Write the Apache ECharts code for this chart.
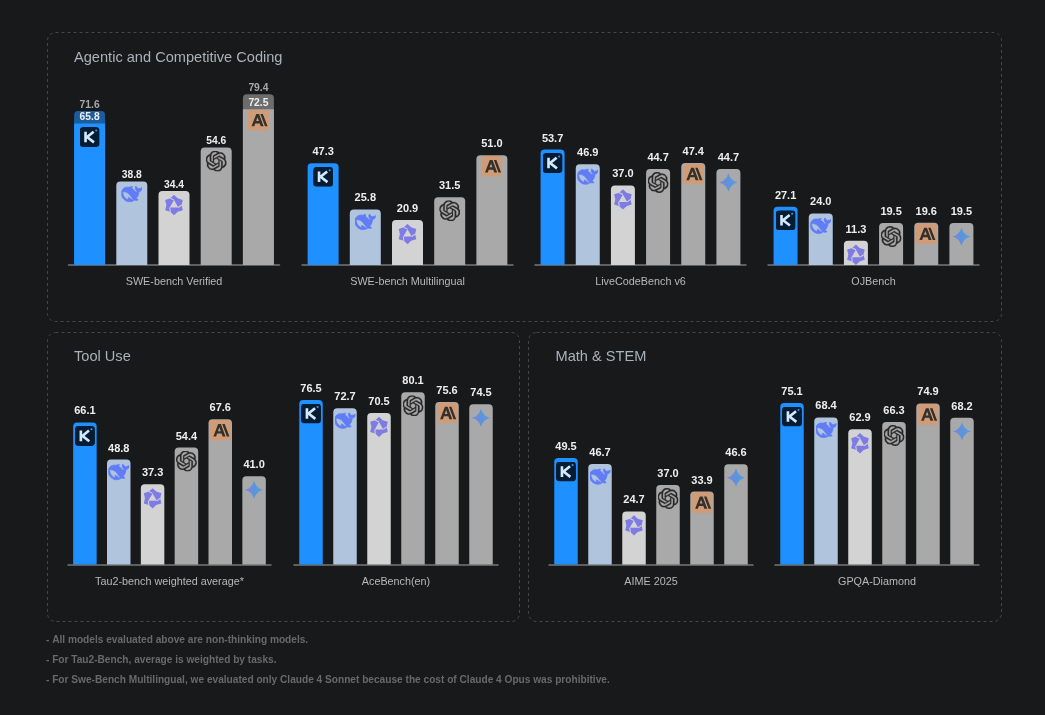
<!DOCTYPE html>
<html>
<head>
<meta charset="utf-8">
<style>html,body{margin:0;padding:0;background:#17191a}#c{width:1045px;height:715px}</style>
<script src="https://cdn.jsdelivr.net/npm/echarts@6/dist/echarts.min.js"></script>
</head>
<body>
<div id="c"></div>
<script>
// ---------- data ----------
const modelsFive = ['Kimi', 'DeepSeek', 'Qwen', 'OpenAI', 'Claude'];
const modelsSix = ['Kimi', 'DeepSeek', 'Qwen', 'OpenAI', 'Claude', 'Gemini'];

const sweVerified = [65.8, 38.8, 34.4, 54.6, 72.5];
const sweVerifiedUpper = [71.6, null, null, null, 79.4];
const sweMultilingual = [47.3, 25.8, 20.9, 31.5, 51.0];
const liveCodeBench = [53.7, 46.9, 37.0, 44.7, 47.4, 44.7];
const ojBench = [27.1, 24.0, 11.3, 19.5, 19.6, 19.5];
const tau2Bench = [66.1, 48.8, 37.3, 54.4, 67.6, 41.0];
const aceBench = [76.5, 72.7, 70.5, 80.1, 75.6, 74.5];
const aime2025 = [49.5, 46.7, 24.7, 37.0, 33.9, 46.6];
const gpqaDiamond = [75.1, 68.4, 62.9, 66.3, 74.9, 68.2];

const panelTitles = ['Agentic and Competitive Coding', 'Tool Use', 'Math & STEM'];
const footnotes = [
  '- All models evaluated above are non-thinking models.',
  '- For Tau2-Bench, average is weighted by tasks.',
  '- For Swe-Bench Multilingual, we evaluated only Claude 4 Sonnet because the cost of Claude 4 Opus was prohibitive.'
];

// ---------- icons ----------
const svg = (vb, body) => 'image://data:image/svg+xml;charset=utf-8,' + encodeURIComponent(
  '<svg xmlns="http://www.w3.org/2000/svg" width="96" height="96" viewBox="0 0 ' + vb + ' ' + vb + '">' + body + '</svg>');

const icons = {
  Kimi: svg(32, '<rect x="0" y="0" width="32" height="32" rx="6" fill="#000"/><path d="M9.5 7.5V24.5M22.5 7.5L12 16L23 24.5" stroke="#fff" stroke-width="4.2" fill="none"/><circle cx="26.5" cy="5.5" r="1.6" fill="#3ba0ff"/>'),
  DeepSeek: svg(24, '<path fill="#4d6bfe" stroke="#4d6bfe" stroke-width="0.9" d="M23.748 4.482c-.254-.124-.364.113-.512.234-.051.039-.094.09-.137.136-.372.397-.806.657-1.373.626-.829-.046-1.537.214-2.163.848-.133-.782-.575-1.248-1.247-1.548-.352-.156-.708-.311-.955-.65-.172-.241-.219-.51-.305-.774-.055-.16-.11-.323-.293-.35-.2-.031-.278.136-.356.276-.313.572-.434 1.202-.422 1.84.027 1.436.633 2.58 1.838 3.393.137.093.172.187.129.323-.082.28-.18.552-.266.833-.055.179-.137.217-.329.14a5.526 5.526 0 01-1.736-1.18c-.857-.828-1.631-1.742-2.597-2.458a11.365 11.365 0 00-.689-.471c-.985-.957.13-1.743.388-1.836.27-.098.093-.432-.779-.428-.872.004-1.67.295-2.687.684a3.055 3.055 0 01-.465.137 9.597 9.597 0 00-2.883-.102c-1.885.21-3.39 1.102-4.497 2.623C.082 8.606-.231 10.684.152 12.85c.403 2.284 1.569 4.175 3.36 5.653 1.858 1.533 3.997 2.284 6.438 2.14 1.482-.085 3.133-.284 4.994-1.86.47.234.962.327 1.78.397.63.059 1.236-.03 1.705-.128.735-.156.684-.837.419-.961-2.155-1.004-1.682-.595-2.113-.926 1.096-1.296 2.746-2.642 3.392-7.003.05-.347.007-.565 0-.845-.004-.17.035-.237.23-.256a4.173 4.173 0 001.545-.475c1.396-.763 1.96-2.015 2.093-3.517.02-.23-.004-.467-.247-.588zM11.581 18c-2.089-1.642-3.102-2.183-3.52-2.16-.392.024-.321.471-.235.763.09.288.207.486.371.739.114.167.192.416-.113.603-.673.416-1.842-.14-1.897-.167-1.361-.802-2.5-1.86-3.301-3.307-.774-1.393-1.224-2.887-1.298-4.482-.02-.386.093-.522.477-.592a4.696 4.696 0 011.529-.039c2.132.312 3.946 1.265 5.468 2.774.868.86 1.525 1.887 2.202 2.891.72 1.066 1.494 2.082 2.48 2.914.348.292.625.514.891.677-.802.09-2.14.11-3.054-.614z"/>'),
  Qwen: svg(32, '<path fill="#6a66ea" fill-rule="evenodd" d="M16 0.5L21.6 5.8L29.4 8.25L27.6 16L29.4 23.75L21.6 26.2L16 31.5L10.4 26.2L2.6 23.75L4.4 16L2.6 8.25L10.4 5.8ZM16 8.5L9.5 19.75H22.5Z"/><path d="M16 8.5L10.4 5.8M22.5 19.75L27.6 16M9.5 19.75L10.4 26.2" stroke="#d3d3d3" stroke-width="1.6"/>'),
  OpenAI: svg(24, '<path fill="#0a0a0a" stroke="#0a0a0a" stroke-width="0.35" d="M22.2819 9.8211a5.9847 5.9847 0 0 0-.5157-4.9108 6.0462 6.0462 0 0 0-6.5098-2.9A6.0651 6.0651 0 0 0 4.9807 4.1818a5.9847 5.9847 0 0 0-3.9977 2.9 6.0462 6.0462 0 0 0 .7427 7.0966 5.98 5.98 0 0 0 .511 4.9107 6.051 6.051 0 0 0 6.5146 2.9001A5.9847 5.9847 0 0 0 13.2599 24a6.0557 6.0557 0 0 0 5.7718-4.2058 5.9894 5.9894 0 0 0 3.9977-2.9001 6.0557 6.0557 0 0 0-.7475-7.0729zm-9.022 12.6081a4.4755 4.4755 0 0 1-2.8764-1.0408l.1419-.0804 4.7783-2.7582a.7948.7948 0 0 0 .3927-.6813v-6.7369l2.02 1.1686a.071.071 0 0 1 .038.052v5.5826a4.504 4.504 0 0 1-4.4945 4.4944zm-9.6607-4.1254a4.4708 4.4708 0 0 1-.5346-3.0137l.142.0852 4.783 2.7582a.7712.7712 0 0 0 .7806 0l5.8428-3.3685v2.3324a.0804.0804 0 0 1-.0332.0615L9.74 19.9502a4.4992 4.4992 0 0 1-6.1408-1.6464zM2.3408 7.8956a4.485 4.485 0 0 1 2.3655-1.9728V11.6a.7664.7664 0 0 0 .3879.6765l5.8144 3.3543-2.0201 1.1685a.0757.0757 0 0 1-.071 0l-4.8303-2.7865A4.504 4.504 0 0 1 2.3408 7.872zm16.5963 3.8558L13.1038 8.364 15.1192 7.2a.0757.0757 0 0 1 .071 0l4.8303 2.7913a4.4944 4.4944 0 0 1-.6765 8.1042v-5.6772a.79.79 0 0 0-.407-.667zm2.0107-3.0231l-.142-.0852-4.7735-2.7818a.7759.7759 0 0 0-.7854 0L9.409 9.2297V6.8974a.0662.0662 0 0 1 .0284-.0615l4.8303-2.7866a4.4992 4.4992 0 0 1 6.6802 4.66zM8.3065 12.863l-2.02-1.1638a.0804.0804 0 0 1-.038-.0567V6.0742a4.4992 4.4992 0 0 1 7.3757-3.4537l-.142.0805L8.704 5.459a.7948.7948 0 0 0-.3927.6813zm1.0976-2.3654l2.602-1.4998 2.6069 1.4998v2.9994l-2.5974 1.4997-2.6067-1.4997Z"/>'),
  Claude: svg(32, '<rect x="0" y="0" width="32" height="32" rx="4" fill="#da9a6b"/><path d="M5.5 25.5L12.8 6.5H17L24 25.5H19.6L18 21H11.2L9.7 25.5ZM12.5 17.5H16.8L14.7 11.5ZM19 6.5H22.8L30 25.5H26Z" fill="#17120e"/>'),
  Gemini: svg(32, '<defs><linearGradient id="g" x1="0" y1="0.55" x2="1" y2="0.45"><stop offset="0" stop-color="#7a78e8"/><stop offset="0.5" stop-color="#4a8fe8"/><stop offset="1" stop-color="#4a9be8"/></linearGradient></defs><path fill="url(#g)" d="M16 2Q19 13 30 16Q19 19 16 30Q13 19 2 16Q13 13 16 2Z"/>')
};

// ---------- styles and layout ----------
const barColors = { Kimi: '#1e90ff', DeepSeek: '#b0c4de', Qwen: '#d3d3d3', OpenAI: '#a9a9a9', Claude: '#a9a9a9', Gemini: '#a9a9a9' };
const upperColors = { Kimi: '#1c5c9c', Claude: '#6c6c6c' };
const iconOffset = { Kimi: 13.5, DeepSeek: 12.5, Qwen: 14, OpenAI: 13.5, Claude: 11, Gemini: 13.5 };
const iconSize = { Kimi: 20, DeepSeek: 21, Qwen: 21, OpenAI: 21, Claude: 21, Gemini: 21 };
const FONT = '"Liberation Sans", Arial, sans-serif';
const oneDecimal = p => (p.value == null ? '' : Number(p.value).toFixed(1));

const charts = [
  { name: 'SWE-bench Verified', cats: modelsFive, values: sweVerified, upper: sweVerifiedUpper, left: 68.5, width: 211, top: 50, bar: 31, gap: 1, size: 10.3 },
  { name: 'SWE-bench Multilingual', cats: modelsFive, values: sweMultilingual, left: 302, width: 211, top: 50, bar: 31, gap: 6, size: 11 },
  { name: 'LiveCodeBench v6', cats: modelsSix, values: liveCodeBench, left: 535, width: 211, top: 50, bar: 24, gap: 5.5, size: 11 },
  { name: 'OJBench', cats: modelsSix, values: ojBench, left: 768, width: 211, top: 50, bar: 24, gap: 5.5, size: 11 },
  { name: 'Tau2-bench weighted average*', cats: modelsSix, values: tau2Bench, left: 68, width: 203, top: 349.5, bar: 23.5, gap: 5.5, size: 11 },
  { name: 'AceBench(en)', cats: modelsSix, values: aceBench, left: 294, width: 204, top: 349.5, bar: 23.5, gap: 5.5, size: 11 },
  { name: 'AIME 2025', cats: modelsSix, values: aime2025, left: 549, width: 204, top: 349.5, bar: 23.5, gap: 5.5, size: 11 },
  { name: 'GPQA-Diamond', cats: modelsSix, values: gpqaDiamond, left: 775, width: 204, top: 349.5, bar: 23.5, gap: 5.5, size: 11 }
];

const grid = [], xAxis = [], yAxis = [], series = [];
charts.forEach((c, i) => {
  grid.push({ left: c.left, top: c.top, width: c.width, height: 215 });
  xAxis.push({
    type: 'category', gridIndex: i, data: c.cats,
    name: c.name, nameLocation: 'middle', nameGap: 12,
    nameTextStyle: { color: '#b8b8b8', fontSize: 10.8, fontFamily: FONT },
    axisLine: { lineStyle: { color: '#777', width: 1.5 } },
    axisTick: { show: false }, axisLabel: { show: false }, splitLine: { show: false }
  });
  yAxis.push({ type: 'value', gridIndex: i, min: 0, max: 100, show: false, splitLine: { show: false } });
  if (c.upper) {
    series.push({
      type: 'bar', xAxisIndex: i, yAxisIndex: i, barWidth: c.bar, barGap: '-100%', z: 2,
      data: c.upper.map((v, j) => ({ value: v, itemStyle: { color: upperColors[c.cats[j]], borderRadius: [4, 4, 0, 0] } })),
      label: { show: true, position: 'top', distance: c.gap, formatter: oneDecimal, color: '#a8a8a8', fontSize: c.size, fontWeight: 'bold', fontFamily: FONT },
      silent: true
    });
  }
  series.push({
    type: 'bar', xAxisIndex: i, yAxisIndex: i, barWidth: c.bar, barGap: '-100%', z: 3,
    data: c.values.map((v, j) => ({ value: v, itemStyle: { color: barColors[c.cats[j]], borderRadius: c.upper && c.upper[j] ? 0 : [4, 4, 0, 0] } })),
    label: { show: true, position: 'top', distance: c.gap, formatter: oneDecimal, color: '#eeeeee', fontSize: c.size, fontWeight: 'bold', fontFamily: FONT },
    silent: true
  });
  series.push({
    type: 'scatter', xAxisIndex: i, yAxisIndex: i, z: 4, silent: true,
    data: c.values.map((v, j) => {
      const m = c.cats[j];
      return { value: [m, v], symbol: icons[m], symbolSize: iconSize[m], symbolOffset: [0, iconOffset[m]] };
    })
  });
});

const panelBox = (x, y, w, h) => ({
  type: 'rect', silent: true, z: 0,
  shape: { x: x + 0.5, y: y + 0.5, width: w, height: h, r: 8 },
  style: { fill: 'transparent', stroke: '#45484a', lineWidth: 1, lineDash: [3, 3] }
});

const titles = [
  { text: panelTitles[0], left: 74, top: 50 },
  { text: panelTitles[1], left: 74, top: 349 },
  { text: panelTitles[2], left: 555.5, top: 349 }
].map(t => ({ ...t, textStyle: { color: '#aab2ba', fontSize: 14.6, fontWeight: 'normal', fontFamily: FONT }, padding: 0 }));

const chart = echarts.init(document.getElementById('c'), null, { renderer: 'canvas' });
chart.setOption({
  animation: false,
  backgroundColor: '#17191a',
  title: titles,
  grid, xAxis, yAxis, series,
  graphic: [
    panelBox(47, 32, 954, 289),
    panelBox(47, 332, 472, 289),
    panelBox(528, 332, 473, 289),
    ...footnotes.map((t, i) => ({
      type: 'text', silent: true, x: 46, y: [640, 660, 680][i],
      style: { text: t, fill: '#696969', fontSize: 10.15, fontFamily: FONT, fontWeight: 'bold', textVerticalAlign: 'middle' }
    }))
  ]
});
</script>
</body>
</html>
